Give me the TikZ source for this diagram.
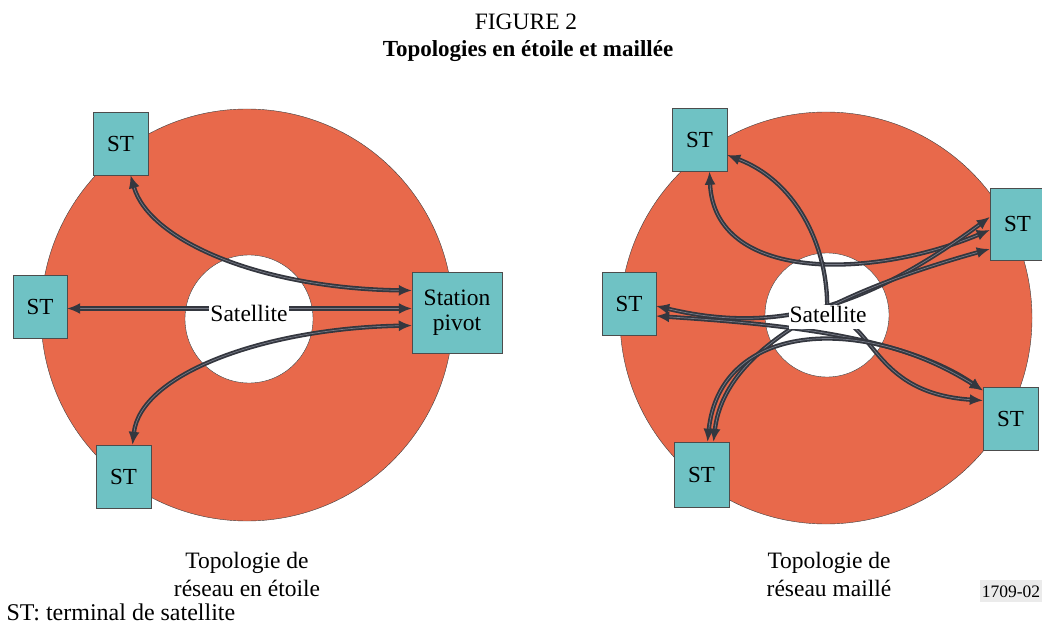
\documentclass[tikz,border=0pt]{standalone}
\usepackage{fontspec}
\setmainfont{Liberation Serif}
\usetikzlibrary{arrows.meta}
\definecolor{ring}{HTML}{E8694B}
\definecolor{termfill}{HTML}{6FC2C4}
\definecolor{linkdark}{HTML}{34373F}
\definecolor{linklight}{HTML}{767A86}

\begin{document}
\begin{tikzpicture}[x=1pt,y=1pt,
  term/.style={draw=black!70,fill=termfill,minimum width=55,minimum height=63,inner sep=0pt,font=\fontsize{23}{26}\selectfont},
  sat/.style={fill=white,inner sep=1pt,anchor=base,font=\fontsize{23.5}{26}\selectfont},
  link/.style={draw=linkdark,double=linklight,double distance=0.7pt,line width=1.8pt,{Latex[length=13pt,width=11pt]}-{Latex[length=13pt,width=11pt]}},
  caption/.style={align=center,font=\fontsize{23.5}{28}\selectfont}]
\useasboundingbox (0,0) rectangle (1042,633);
\node[anchor=base,font=\fontsize{23.5}{26}\selectfont] (fig) at (526,603) {FIGURE 2};
\node[anchor=base,font=\fontsize{23}{26}\selectfont\bfseries] (title) at (528,576) {Topologies en étoile et maillée};

% etoile
\coordinate (hubE) at (249,314);
\draw[draw=black!75,fill=ring] (247,318) circle (206);
\draw[draw=black!75,fill=white] (hubE) circle (64);
\node[term] (etA) at (120.5,489.5) {ST};
\node[term,minimum width=54] (etB) at (40,326.5) {ST};
\node[term] (etC) at (123.5,156.5) {ST};
\node[term,minimum width=90,minimum height=81,align=center,font=\fontsize{23.5}{25}\selectfont] (pivot) at (457,320.5) {Station\\pivot};
\draw[link] ([xshift=10]etA.south) .. controls +(19,-66) and +(-150,2) .. ([yshift=22]pivot.west);
\draw[link] ([yshift=-2]etB.east) -- ([yshift=4]pivot.west);
\draw[link] ([xshift=9]etC.north) .. controls +(8,70) and +(-150,-3) .. ([yshift=-13]pivot.west);
\node[sat] (satE) at (249,312) {Satellite};
\node[caption] (capE) at (247,59) {Topologie de\\réseau en étoile};

% maille
\coordinate (hubM) at (827,318);
\draw[draw=black!75,fill=ring] (826,315) circle (206);
\draw[draw=black!75,fill=white] (hubM) circle (62);
\node[term] (mT) at (699.5,493) {ST};
\node[term,minimum height=72] (mR) at (1017.5,409) {ST};
\node[term,minimum width=54] (mL) at (629,329.5) {ST};
\node[term] (mBR) at (1010.5,214.5) {ST};
\node[term,minimum height=65] (mB) at (701.5,158.5) {ST};
\draw[link] ([xshift=10]mT.south) .. controls +(5,-110) and +(-120,-50) .. ([yshift=-6]mR.west);
\draw[link] ([yshift=-15]mT.east) .. controls +(73,-28) and +(3,62) .. (hubM)
  .. controls +(48,-3) and +(-113,7.5) .. ([yshift=18]mBR.west);
\draw[link] ([yshift=-2.5]mL.east) .. controls +(114,-27) and +(-130,-96) .. ([yshift=7]mR.west);
\draw[link] ([yshift=-12.5]mL.east) .. controls +(104,-7) and +(-83,57.5) .. ([yshift=28]mBR.west);
\draw[link] ([xshift=12]mB.north) .. controls +(11.5,99) and +(-140,-39) .. ([yshift=-25]mR.west);
\draw[link] ([xshift=6]mB.north) .. controls +(12.5,119) and +(-123,77.5) .. ([yshift=28]mBR.west);
\node[sat,text depth=6pt] (satM) at (828,311) {Satellite};
\node[caption] (capM) at (829,59) {Topologie de\\réseau maillé};

\node[anchor=base,fill=black!8,inner xsep=2pt,inner ysep=5pt,font=\fontsize{17.5}{20}\selectfont] (ref) at (1011,36) {1709-02};
\node[anchor=base west,font=\fontsize{24}{26}\selectfont] (legend) at (3,13) {ST: terminal de satellite};
\end{tikzpicture}
\end{document}
